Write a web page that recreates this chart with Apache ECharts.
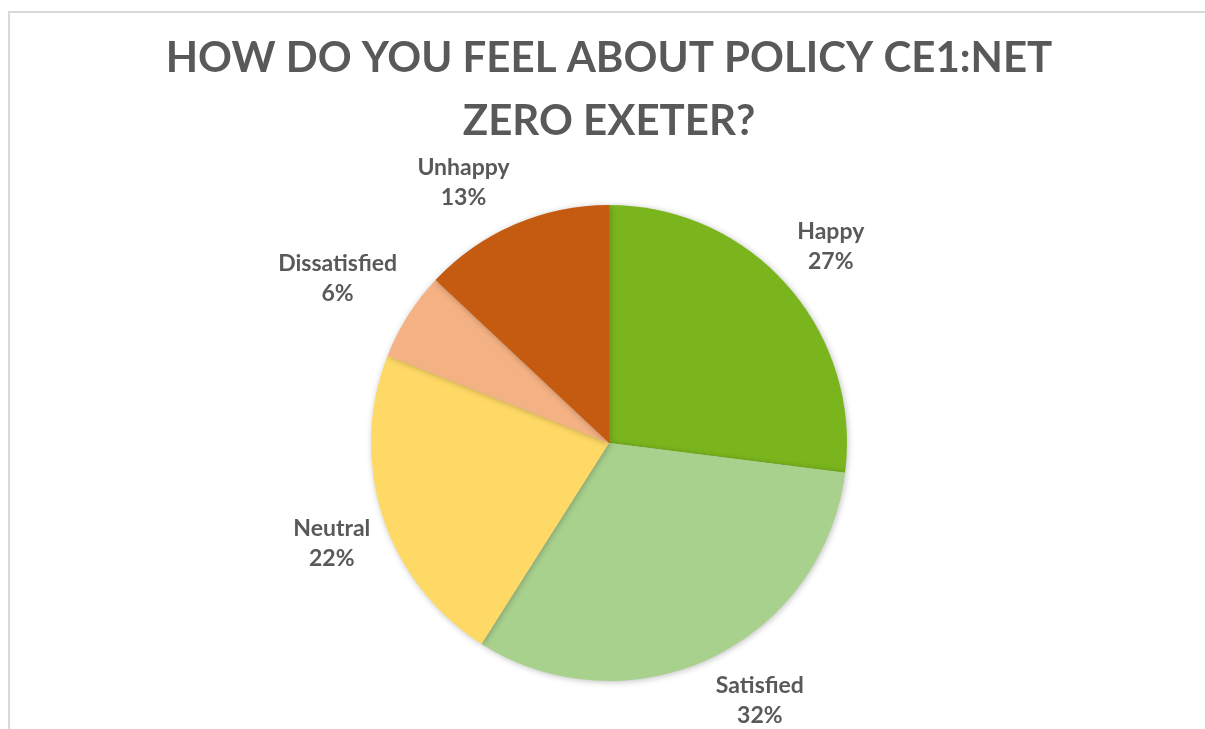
<!DOCTYPE html>
<html>
<head>
<meta charset="utf-8">
<script src="https://cdn.jsdelivr.net/npm/echarts@6/dist/echarts.min.js"></script>
<style>
  html, body { margin: 0; padding: 0; background: #fff; }
  #frame {
    position: absolute; left: 8px; top: 11px; width: 1300px; height: 800px;
    border-left: 2px solid #d9d9d9; border-top: 2px solid #d9d9d9;
  }
  #main { position: absolute; left: 0; top: 0; width: 1205px; height: 729px; }
</style>
</head>
<body>
<div id="frame"></div>
<div id="main"></div>
<script>
const categories = ["Happy", "Satisfied", "Neutral", "Dissatisfied", "Unhappy"];
const values = [27, 32, 22, 6, 13];
const colors = ["#7ab51d", "#a9d18e", "#ffd966", "#f4b183", "#c55a11"];
const titleText = "HOW DO YOU FEEL ABOUT POLICY CE1:NET\nZERO EXETER?";

const cx = 609, cy = 443, radius = 238;
const total = values.reduce((a, b) => a + b, 0);

// mid angle of each slice, clockwise from 12 o'clock
let acc = 0;
const midAngles = values.map(v => {
  const mid = (acc + v / 2) / total * Math.PI * 2;
  acc += v;
  return mid;
});

const clamp = v => Math.max(-1, Math.min(1, v));

const chart = echarts.init(document.getElementById("main"));
chart.setOption({
  animation: false,
  title: {
    text: titleText,
    left: 604,
    textAlign: "center",
    top: 22,
    textStyle: {
      fontFamily: "Lato",
      fontWeight: "bold",
      fontSize: 42,
      lineHeight: 63,
      color: "#595959",
    },
  },
  series: [
    {
      type: "pie",
      center: [cx, cy],
      radius: radius,
      startAngle: 90,
      clockwise: true,
      color: colors,
      itemStyle: {
        shadowBlur: 6,
        shadowColor: "rgba(0,0,0,0.25)",
        shadowOffsetX: 1,
        shadowOffsetY: 1,
      },
      labelLine: { show: false },
      label: {
        show: true,
        position: "outside",
        formatter: "{b}\n{d}%",
        fontFamily: "Lato",
        fontWeight: "bold",
        fontSize: 23,
        lineHeight: 30,
        color: "#595959",
        align: "center",
      },
      // like excel: nearest corner of the label box sits just outside the slice
      labelLayout: function (params) {
        const a = midAngles[params.dataIndex];
        const dx = Math.sin(a), dy = -Math.cos(a);
        const w = params.labelRect.width / 2, h = params.labelRect.height / 2;
        const d = radius + 13;
        return {
          x: cx + d * dx + clamp(dx * 2.5) * w,
          y: cy + d * dy + clamp(dy * 2.5) * h,
          align: "center",
          verticalAlign: "middle",
        };
      },
      data: categories.map((name, i) => ({ name: name, value: values[i] })),
    },
  ],
});
</script>
</body>
</html>
